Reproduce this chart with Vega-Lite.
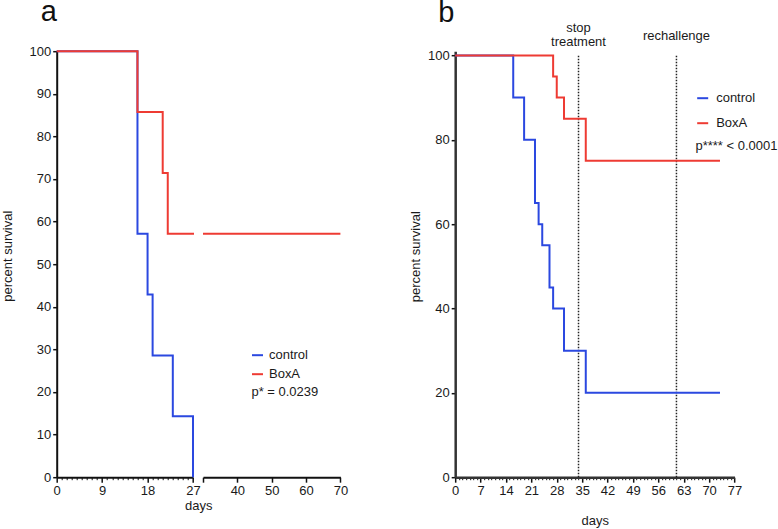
{
  "$schema": "https://vega.github.io/schema/vega-lite/v6.json",
  "padding": {"left": 0.7, "top": -2.8, "right": 0, "bottom": 0},
  "config": {
    "view": {"stroke": null},
    "font": "Liberation Sans",
    "axis": {"grid": false, "labelFont": "Liberation Sans", "labelFontSize": 13, "labelColor": "#1a1a1a", "titleFont": "Liberation Sans", "titleFontSize": 13, "titleFontWeight": "normal", "titleColor": "#1a1a1a", "domainColor": "#111", "tickColor": "#111", "domainWidth": 2, "labelPadding": 2, "labelFlush": false, "labelOverlap": false},
    "text": {"font": "Liberation Sans", "fontSize": 13, "color": "#1a1a1a"}
  },
  "datasets": {
    "a": [
      {"group": "control", "seg": "L", "day": 0, "pct": 100},
      {"group": "control", "seg": "L", "day": 16, "pct": 57.14},
      {"group": "control", "seg": "L", "day": 18, "pct": 42.86},
      {"group": "control", "seg": "L", "day": 19, "pct": 28.57},
      {"group": "control", "seg": "L", "day": 23, "pct": 14.29},
      {"group": "control", "seg": "L", "day": 27, "pct": 0},
      {"group": "BoxA", "seg": "L", "day": 0, "pct": 100},
      {"group": "BoxA", "seg": "L", "day": 16, "pct": 85.71},
      {"group": "BoxA", "seg": "L", "day": 21, "pct": 71.43},
      {"group": "BoxA", "seg": "L", "day": 22, "pct": 57.14},
      {"group": "BoxA", "seg": "L", "day": 27.2, "pct": 57.14},
      {"group": "BoxA", "seg": "R", "day": 30, "pct": 57.14},
      {"group": "BoxA", "seg": "R", "day": 70, "pct": 57.14}
    ],
    "b": [
      {"group": "control", "day": 0, "pct": 100},
      {"group": "control", "day": 16, "pct": 90},
      {"group": "control", "day": 19, "pct": 80},
      {"group": "control", "day": 22, "pct": 65},
      {"group": "control", "day": 23, "pct": 60},
      {"group": "control", "day": 24, "pct": 55},
      {"group": "control", "day": 26, "pct": 45},
      {"group": "control", "day": 27, "pct": 40},
      {"group": "control", "day": 30, "pct": 30},
      {"group": "control", "day": 36, "pct": 20},
      {"group": "control", "day": 73, "pct": 20},
      {"group": "BoxA", "day": 0, "pct": 100},
      {"group": "BoxA", "day": 27, "pct": 95},
      {"group": "BoxA", "day": 28, "pct": 90},
      {"group": "BoxA", "day": 30, "pct": 85},
      {"group": "BoxA", "day": 36, "pct": 75},
      {"group": "BoxA", "day": 73, "pct": 75}
    ],
    "events": [
      {"day": 34, "event": "stop\ntreatment"},
      {"day": 61, "event": "rechallenge"}
    ]
  },
  "hconcat": [
    {
      "hconcat": [
        {
          "width": 136.3,
          "height": 426,
          "title": {"text": "a", "anchor": "start", "frame": "group", "fontSize": 29, "font": "Liberation Sans", "fontWeight": "normal", "color": "#111", "baseline": "alphabetic", "offset": -4.8, "dx": -16},
          "data": {"name": "a"},
          "transform": [{"filter": "datum.seg == 'L'"}],
          "mark": {"type": "line", "interpolate": "step-after", "strokeWidth": 2},
          "encoding": {
            "x": {"field": "day", "type": "quantitative",
              "scale": {"domain": [0, 27], "nice": false, "zero": false},
              "axis": {"values": [0,1,2,3,4,5,6,7,8,9,10,11,12,13,14,15,16,17,18,19,20,21,22,23,24,25,26,27],
                "labelExpr": "datum.value % 9 == 0 ? datum.label : ''", "labelOverlap": false,
                "tickSize": {"condition": {"test": "datum.value % 9 == 0", "value": 5}, "value": 2.5},
                "tickWidth": {"condition": {"test": "datum.value % 9 == 0", "value": 1.5}, "value": 1},
                "title": "days", "titleX": 141.5, "titleY": 28.5, "titleBaseline": "middle", "titleAlign": "center"}},
            "y": {"field": "pct", "type": "quantitative",
              "scale": {"domain": [0, 100], "nice": false},
              "axis": {"values": [0,10,20,30,40,50,60,70,80,90,100], "tickSize": 4, "tickWidth": 1.5, "labelOverlap": false,
                "title": "percent survival", "titleX": -49.4, "titleY": 204.5, "titleBaseline": "middle", "titleAlign": "center", "titleAngle": 270}},
            "color": {"field": "group", "type": "nominal",
              "scale": {"domain": ["control", "BoxA"], "range": ["#2b48e0", "#ee3b33"]},
              "legend": null}
          }
        },
        {
          "width": 137.4,
          "height": 426,
          "resolve": {"axis": {"x": "independent", "y": "independent"}},
          "layer": [
            {
              "data": {"name": "a"},
              "transform": [{"filter": "datum.seg == 'R'"}],
              "mark": {"type": "line", "interpolate": "step-after", "strokeWidth": 2},
              "encoding": {
                "x": {"field": "day", "type": "quantitative",
                  "scale": {"domain": [30, 70], "nice": false, "zero": false},
                  "axis": {"values": [30, 40, 50, 60, 70], "labelOverlap": false, "orient": "bottom",
                    "labelExpr": "datum.value == 30 ? '' : datum.label",
                    "tickSize": 5, "tickWidth": 1.5, "title": null}},
                "y": {"field": "pct", "type": "quantitative",
                  "scale": {"domain": [0, 100], "nice": false}, "axis": null},
                "color": {"field": "group", "type": "nominal",
                  "scale": {"domain": ["control", "BoxA"], "range": ["#2b48e0", "#ee3b33"]},
                  "legend": {"orient": "none", "legendX": 48, "legendY": 297.5, "title": null, "symbolType": "stroke", "symbolSize": 121, "symbolStrokeWidth": 2, "labelFontSize": 13, "labelFont": "Liberation Sans", "labelColor": "#1a1a1a", "labelOffset": 5, "rowPadding": 5, "padding": 0}}
              }
            },
            {
              "data": {"values": [{"label": "p* = 0.0239"}]},
              "mark": {"type": "text", "align": "left", "baseline": "middle", "fontSize": 13},
              "encoding": {"x": {"datum": 44.1, "axis": null}, "y": {"datum": 20, "axis": null}, "text": {"field": "label"}}
            }
          ]
        }
      ],
      "spacing": 9.3,
      "bounds": "flush",
      "resolve": {"scale": {"color": "independent"}, "legend": {"color": "independent"}}
    },
    {
      "width": 279.3,
      "height": 426,
      "title": {"text": "b", "anchor": "start", "frame": "group", "fontSize": 29, "font": "Liberation Sans", "fontWeight": "normal", "color": "#111", "baseline": "alphabetic", "offset": -28.5, "dx": -17},
      "resolve": {"axis": {"x": "independent", "y": "independent"}},
      "layer": [
        {
          "data": {"name": "events"},
          "mark": {"type": "rule", "strokeDash": [1.5, 1.5], "strokeWidth": 1.5, "color": "#222"},
          "encoding": {"x": {"field": "day", "type": "quantitative", "axis": null}, "y": {"datum": 0, "axis": null}, "y2": {"datum": 100}}
        },
        {
          "data": {"name": "events"},
          "transform": [{"filter": "datum.day == 34"}],
          "mark": {"type": "text", "lineBreak": "\n", "baseline": "middle", "align": "center", "fontSize": 13, "lineHeight": 14},
          "encoding": {"x": {"field": "day", "type": "quantitative", "axis": null}, "y": {"datum": 106.4, "axis": null}, "text": {"field": "event"}}
        },
        {
          "data": {"name": "events"},
          "transform": [{"filter": "datum.day == 61"}],
          "mark": {"type": "text", "baseline": "middle", "align": "center", "fontSize": 13},
          "encoding": {"x": {"field": "day", "type": "quantitative", "axis": null}, "y": {"datum": 104.7, "axis": null}, "text": {"field": "event"}}
        },
        {
          "data": {"name": "b"},
          "mark": {"type": "line", "interpolate": "step-after", "strokeWidth": 2},
          "encoding": {
            "x": {"field": "day", "type": "quantitative",
              "scale": {"domain": [0, 77], "nice": false, "zero": false},
              "axis": {"values": [0,1,2,3,4,5,6,7,8,9,10,11,12,13,14,15,16,17,18,19,20,21,22,23,24,25,26,27,28,29,30,31,32,33,34,35,36,37,38,39,40,41,42,43,44,45,46,47,48,49,50,51,52,53,54,55,56,57,58,59,60,61,62,63,64,65,66,67,68,69,70,71,72,73,74,75,76,77],
                "labelExpr": "datum.value % 7 == 0 ? datum.label : ''", "labelOverlap": false, "orient": "bottom",
                "tickSize": {"condition": {"test": "datum.value % 7 == 0", "value": 5}, "value": 2.5},
                "tickWidth": {"condition": {"test": "datum.value % 7 == 0", "value": 1.5}, "value": 1},
                "domainColor": "#333", "domainWidth": 2.5,
                "title": "days", "titleX": 139.6, "titleY": 43.3, "titleBaseline": "middle", "titleAlign": "center"}},
            "y": {"field": "pct", "type": "quantitative",
              "scale": {"domain": [0, 101], "nice": false},
              "axis": {"values": [0, 20, 40, 60, 80, 100], "tickSize": 4, "tickWidth": 1.5, "domainColor": "#333", "domainWidth": 2.5, "labelOverlap": false, "orient": "left",
                "title": "percent survival", "titleX": -40, "titleY": 205, "titleBaseline": "middle", "titleAlign": "center", "titleAngle": 270}},
            "color": {"field": "group", "type": "nominal",
              "scale": {"domain": ["control", "BoxA"], "range": ["#2b48e0", "#ee3b33"]},
              "legend": {"orient": "none", "legendX": 241, "legendY": 40.5, "title": null, "symbolType": "stroke", "symbolSize": 121, "symbolStrokeWidth": 2, "labelFontSize": 13, "labelFont": "Liberation Sans", "labelColor": "#1a1a1a", "labelOffset": 7, "rowPadding": 11, "padding": 0}}
          }
        },
        {
          "data": {"values": [{"label": "p**** < 0.0001"}]},
          "mark": {"type": "text", "align": "left", "baseline": "middle", "fontSize": 13},
          "encoding": {"x": {"datum": 66.25, "axis": null}, "y": {"datum": 78.5, "axis": null}, "text": {"field": "label"}}
        }
      ]
    }
  ],
  "spacing": 61.5,
  "resolve": {"scale": {"color": "independent"}, "legend": {"color": "independent"}}
}
